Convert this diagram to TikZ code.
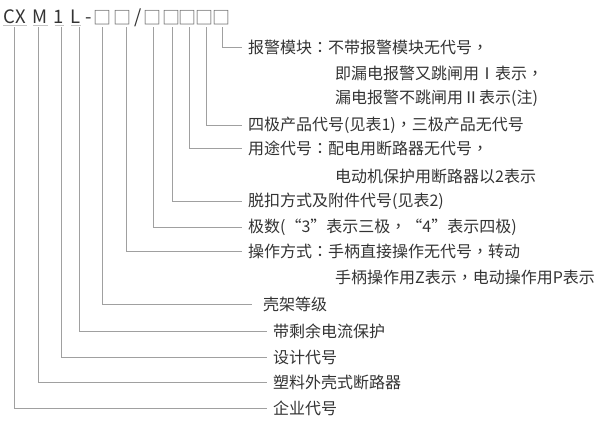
\documentclass[tikz,border=0pt]{standalone}
\usepackage{fontspec}
\setmainfont{Noto Sans CJK SC}
\newfontfamily\tcp{Noto Sans CJK TC}
\newcommand{\pco}{{\tcp ：}}
\newcommand{\pcm}{{\tcp ，}}
\definecolor{txt}{HTML}{333333}
\definecolor{ln}{HTML}{A0A0A0}
\definecolor{ul}{HTML}{C4C4C4}
\begin{document}
\begin{tikzpicture}[x=1pt,y=-1pt,
  lbl/.style={anchor=west,inner xsep=6pt,inner ysep=0pt,text=txt,font=\fontsize{16}{16}\selectfont},
  cont/.style={anchor=west,inner sep=0pt,text=txt,font=\fontsize{16}{16}\selectfont},
  hdr/.style={anchor=base,inner sep=0pt,text=txt,font=\fontsize{18.5}{18.5}\selectfont},
  sq/.style={anchor=base,inner sep=0pt,text=txt!75,font=\fontsize{18}{18}\selectfont},
  conn/.style={draw=ln,line width=0.9pt},
  uline/.style={draw=ul,line width=0.8pt}]
\useasboundingbox (0,0) rectangle (600,426);
% header
\node[hdr] (hCX) at (14.5,23) {CX};
\node[hdr] (hM) at (40.5,23) {M};
\node[hdr] (h1) at (59,23) {1};
\node[hdr] (hL) at (76,23) {L};
\node[hdr] (hdash) at (88.5,23) {-};
\node[sq] (s1) at (102.5,24) {□};
\node[sq] (s2) at (122,24) {□};
\node[hdr] (hslash) at (138.5,23) {/};
\node[sq] (s3) at (152.5,24) {□};
\node[sq] (s4) at (171,24) {□};
\node[sq] (s5) at (187.5,24) {□};
\node[sq] (s6) at (204.5,24) {□};
\node[sq] (s7) at (221,24) {□};
% underlines
\draw[uline] (3,25.5) -- (27,25.5);
\draw[uline] (33,25.5) -- (48,25.5);
\draw[uline] (55,25.5) -- (64,25.5);
\draw[uline] (71,25.5) -- (81,25.5);
% start points
\coordinate (c1) at (14,27);
\coordinate (c2) at (38,27);
\coordinate (c3) at (61,27);
\coordinate (c4) at (79,27);
\coordinate (c5) at (102,27);
\coordinate (c6) at (126,27);
\coordinate (c7) at (153,27);
\coordinate (c8) at (172,27);
\coordinate (c9) at (189,27);
\coordinate (c10) at (206,27);
\coordinate (c11) at (222,27);
% labels
\node[lbl] (l11) at (242,47) {报警模块\pco 不带报警模块无代号\pcm};
\node[cont] (l11b) at (335,73) {即漏电报警又跳闸用Ⅰ表示\pcm};
\node[cont] (l11c) at (335,98) {漏电报警不跳闸用Ⅱ表示(注)};
\node[lbl] (l10) at (242,125) {四极产品代号(见表1)\pcm 三极产品无代号};
\node[lbl] (l9) at (242,148) {用途代号\pco 配电用断路器无代号\pcm};
\node[cont] (l9b) at (335,176) {电动机保护用断路器以2表示};
\node[lbl] (l8) at (242,201) {脱扣方式及附件代号(见表2)};
\node[lbl] (l7) at (242,227) {极数(“3”表示三极\pcm “4”表示四极)};
\node[lbl] (l6) at (242,251) {操作方式\pco 手柄直接操作无代号\pcm 转动};
\node[cont] (l6b) at (335,277) {手柄操作用Z表示\pcm 电动操作用P表示};
\node[lbl,inner xsep=11pt] (l5) at (252,304) {壳架等级};
\node[lbl] (l4) at (267,331) {带剩余电流保护};
\node[lbl] (l3) at (267,357) {设计代号};
\node[lbl] (l2) at (267,382) {塑料外壳式断路器};
\node[lbl] (l1) at (267,408) {企业代号};
% connectors
\draw[conn] (c11) |- (l11.west);
\draw[conn] (c10) |- (l10.west);
\draw[conn] (c9) |- (l9.west);
\draw[conn] (c8) |- (l8.west);
\draw[conn] (c7) |- (l7.west);
\draw[conn] (c6) |- (l6.west);
\draw[conn] (c5) |- (l5.west);
\draw[conn] (c4) |- (l4.west);
\draw[conn] (c3) |- (l3.west);
\draw[conn] (c2) |- (l2.west);
\draw[conn] (c1) |- (l1.west);
\end{tikzpicture}
\end{document}
